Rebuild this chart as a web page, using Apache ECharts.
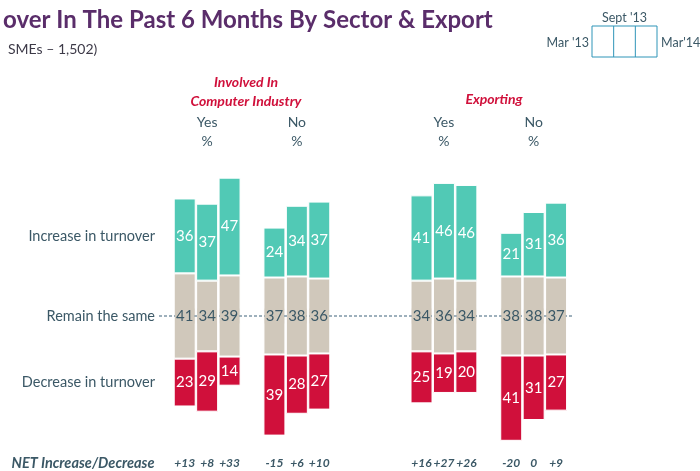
<!DOCTYPE html>
<html>
<head>
<meta charset="utf-8">
<script src="https://cdn.jsdelivr.net/npm/echarts@6/dist/echarts.min.js"></script>
<style>
  html, body { margin: 0; padding: 0; background: #fff; }
  #container { width: 700px; height: 471px; }
</style>
</head>
<body>
<div id="container"></div>
<script>
// waves: Mar '13, Sept '13, Mar '14 -- first three = Yes, last three = No
var ciIncrease = [36, 37, 47, 24, 34, 37];
var ciRemain = [41, 34, 39, 37, 38, 36];
var ciDecrease = [23, 29, 14, 39, 28, 27];
var ciNet = ["+13", "+8", "+33", "-15", "+6", "+10"];

var exIncrease = [41, 46, 46, 21, 31, 36];
var exRemain = [34, 36, 34, 38, 38, 37];
var exDecrease = [25, 19, 20, 41, 31, 27];
var exNet = ["+16", "+27", "+26", "-20", "0", "+9"];

var groupLabels = ["Yes\n%", "No\n%"];
var rowLabels = ["Increase in turnover", "Remain the same", "Decrease in turnover"];
var waveLabels = ["Mar '13", "Sept '13", "Mar'14"];

var FONT = "Lato";
var SLATE = "#3b5866";
var TEAL = "#51c9b5";
var BEIGE = "#d0c8bb";
var RED = "#d0103b";
var MID = 100; // remain segments are centred on this value

(function() {
  var chart = echarts.init(document.getElementById("container"));

  // 3 bars, a blank slot, 3 bars
  function slots(arr) {
    return [arr[0], arr[1], arr[2], "-", arr[3], arr[4], arr[5]];
  }

  function panelSeries(idx, inc, rem, dec) {
    var base = dec.map(function(d, i) {
      return MID - rem[i] / 2 - d;
    });
    var common = {
      type: "bar",
      stack: "p" + idx,
      xAxisIndex: idx * 2,
      yAxisIndex: idx,
      barCategoryGap: "2%",
      silent: true
    };
    var lab = { show: true, position: "inside", fontFamily: FONT, fontSize: 15, color: "#fff" };
    return [
      Object.assign({}, common, {
        name: "base" + idx,
        data: slots(base),
        itemStyle: { color: "transparent" }
      }),
      Object.assign({}, common, {
        name: "Decrease in turnover",
        data: slots(dec),
        itemStyle: { color: RED, borderColor: "#fff", borderWidth: 1 },
        label: lab
      }),
      Object.assign({}, common, {
        name: "Remain the same",
        data: slots(rem),
        itemStyle: { color: BEIGE, borderColor: "#fff", borderWidth: 1 },
        label: Object.assign({}, lab, {
          color: SLATE,
          backgroundColor: BEIGE,
          padding: [0, 1]
        })
      }),
      Object.assign({}, common, {
        name: "Increase in turnover",
        data: slots(inc),
        itemStyle: { color: TEAL, borderColor: "#fff", borderWidth: 1 },
        label: lab
      })
    ];
  }

  function topAxis(idx) {
    return {
      type: "category",
      gridIndex: idx,
      position: "top",
      data: ["", groupLabels[0], "", "", "", groupLabels[1], ""],
      axisLine: { show: false },
      axisTick: { show: false },
      axisLabel: { interval: 0, margin: 19, fontFamily: FONT, fontSize: 14, lineHeight: 19, color: SLATE }
    };
  }

  function bottomAxis(idx, net) {
    return {
      type: "category",
      gridIndex: idx,
      position: "bottom",
      data: slots(net).map(function(v) { return v === "-" ? "" : v; }),
      axisLine: { show: false },
      axisTick: { show: false },
      axisLabel: {
        interval: 0, margin: 6, fontFamily: FONT, fontSize: 12,
        fontStyle: "italic", fontWeight: "bold", color: SLATE
      }
    };
  }

  function valAxis(idx) {
    return { type: "value", gridIndex: idx, min: 35, max: 170, show: false };
  }

  var option = {
    animation: false,
    backgroundColor: "#fff",
    textStyle: { fontFamily: FONT },
    title: [
      {
        text: "over In The Past 6 Months By Sector & Export",
        left: -2, top: 3,
        textStyle: { fontFamily: FONT, fontSize: 24, fontWeight: "bold", color: "#5a2d6a" }
      },
      {
        text: "SMEs \u2013 1,502)",
        left: 3, top: 37,
        textStyle: { fontFamily: FONT, fontSize: 14, fontWeight: "normal", color: "#3d3a48" }
      },
      {
        text: "Involved In\nComputer Industry",
        left: 241, top: 68, textAlign: "center",
        textStyle: { fontFamily: FONT, fontSize: 14, fontWeight: "bold", fontStyle: "italic", color: RED, lineHeight: 19 }
      },
      {
        text: "Exporting",
        left: 489, top: 87, textAlign: "center",
        textStyle: { fontFamily: FONT, fontSize: 14, fontWeight: "bold", fontStyle: "italic", color: RED }
      }
    ],
    grid: [
      { left: 173.5, width: 157, top: 170.4, bottom: 471 - 451.2 },
      { left: 410.3, width: 157, top: 170.4, bottom: 471 - 451.2 }
    ],
    xAxis: [topAxis(0), bottomAxis(0, ciNet), topAxis(1), bottomAxis(1, exNet)],
    yAxis: [valAxis(0), valAxis(1)],
    series: panelSeries(0, ciIncrease, ciRemain, ciDecrease)
      .concat(panelSeries(1, exIncrease, exRemain, exDecrease))
  };
  chart.setOption(option);

  // overlay: row labels, dashed middle line, wave key
  var yInc = chart.convertToPixel({ gridIndex: 0 }, [0, MID + 38.5])[1];
  var yMid = chart.convertToPixel({ gridIndex: 0 }, [0, MID])[1];
  var yDec = chart.convertToPixel({ gridIndex: 0 }, [0, MID - 32])[1];
  var rowY = [yInc, yMid, yDec];

  var graphics = rowLabels.map(function(t, i) {
    return {
      type: "text", x: 155, y: rowY[i],
      style: { text: t, fontFamily: FONT, fontSize: 14.5, fill: SLATE, align: "right", verticalAlign: "middle" }
    };
  });
  graphics.push({
    type: "line", z: 2, z2: 1,
    shape: { x1: 159, y1: yMid, x2: 572, y2: yMid },
    style: { stroke: "#7f97a6", lineWidth: 1.5, lineDash: [3, 2] }
  });
  graphics.push({
    type: "text", x: 83, y: 463,
    style: {
      text: "NET Increase/Decrease", fontFamily: FONT, fontSize: 14.5, fontStyle: "italic",
      fontWeight: "bold", fill: SLATE, align: "center", verticalAlign: "middle"
    }
  });
  // wave key box
  var kx = 592, ky = 26, kw = 65, kh = 31;
  graphics.push({ type: "rect", shape: { x: kx, y: ky, width: kw, height: kh }, style: { fill: "none", stroke: "#2f95b8", lineWidth: 1 } });
  graphics.push({ type: "line", shape: { x1: kx + kw / 3, y1: ky, x2: kx + kw / 3, y2: ky + kh }, style: { stroke: "#2f95b8", lineWidth: 1 } });
  graphics.push({ type: "line", shape: { x1: kx + 2 * kw / 3, y1: ky, x2: kx + 2 * kw / 3, y2: ky + kh }, style: { stroke: "#2f95b8", lineWidth: 1 } });
  graphics.push({ type: "text", x: kx - 3, y: 43, style: { text: waveLabels[0], fontFamily: FONT, fontSize: 12.5, fill: SLATE, align: "right", verticalAlign: "middle" } });
  graphics.push({ type: "text", x: kx + kw / 2, y: 18, style: { text: waveLabels[1], fontFamily: FONT, fontSize: 12.5, fill: SLATE, align: "center", verticalAlign: "middle" } });
  graphics.push({ type: "text", x: kx + kw + 4, y: 43, style: { text: waveLabels[2], fontFamily: FONT, fontSize: 12.5, fill: SLATE, align: "left", verticalAlign: "middle" } });

  chart.setOption({ graphic: graphics });
})();
</script>
</body>
</html>
